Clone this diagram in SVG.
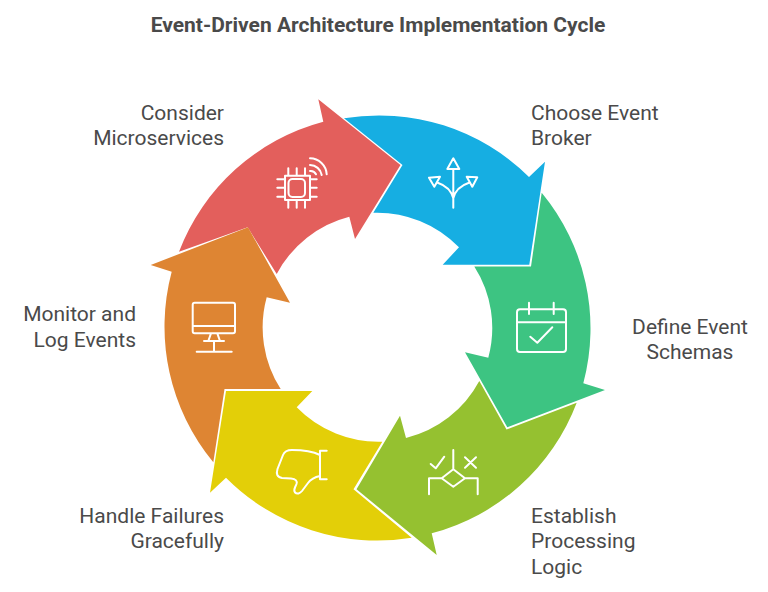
<svg xmlns="http://www.w3.org/2000/svg" width="768" height="592" viewBox="0 0 768 592">
<style>
.t{font-family:Roboto,"Liberation Sans",sans-serif;font-size:21px;fill:#4a4a4a}
.h{font-family:Roboto,"Liberation Sans",sans-serif;font-size:21px;font-weight:700;fill:#4a4a4a}
.i{fill:none;stroke:#fff;stroke-width:2;stroke-linecap:round;stroke-linejoin:round}
</style>
<rect width="768" height="592" fill="#fff"/>
<text class="h" x="378" y="32" text-anchor="middle">Event-Driven Architecture Implementation Cycle</text>
<g id="node-microservices">
<path fill="#e35f5c" d="M179 251.700A213 213 0 0 1 323.300 121.700L318.300 99.300L400.500 165L355 239L349.300 216.700A114 114 0 0 0 276.700 274L247.700 227.300Z"/>
<path class="i" d="M285 175.700H310V200H285ZM292.500 179H301A4 4 0 0 1 305 183V193A4 4 0 0 1 301 197H292.500A4 4 0 0 1 288.500 193V183A4 4 0 0 1 292.500 179ZM288.300 168.300V175.700M296.700 168.300V175.700M305 168.300V175.700M288.300 200V207.700M296.700 200V207.700M305 200V207.700M277.300 179.300H285M277.300 187.700H285M277.300 196.700H285M310 179.300H316.700M310 187.700H316.700M310 196.700H316.700M310 158.300A17 17 0 0 1 326.700 174.300M310 165A12 12 0 0 1 321.700 175M310 171A6 6 0 0 1 316 174.300"/>
<text class="t" x="224" y="120" text-anchor="end">Consider</text>
<text class="t" x="224" y="145" text-anchor="end">Microservices</text>
</g>
<g id="node-broker">
<path fill="#16aee2" d="M344 118.300A213 213 0 0 1 529 177L545 161.700L529.300 264.700H442.700L459 247.300A114 114 0 0 0 373.300 212.700L402.500 165Z"/>
<path class="i" d="M453.300 170V207.700M453.300 158.300L447.300 169H459.300ZM429 177.700L440 176.700L434.300 186.700ZM477.300 177.300L466.700 176.700L472.300 186.700ZM453.300 198.300C451.500 191 446 185.500 437.700 182.700M453.300 198.300C455 191 460.500 185.500 469 182.700"/>
<text class="t" x="531" y="120">Choose Event</text>
<text class="t" x="531" y="145">Broker</text>
</g>
<g id="node-schemas">
<path fill="#3dc482" d="M541.700 192.700A213 213 0 0 1 583.300 383.300L605 390L507.300 427.300L465 352.300L488.300 357.700A114 114 0 0 0 474.300 266.500H531Z"/>
<path class="i" d="M520 309.300H563A3 3 0 0 1 566 312.300V349A3 3 0 0 1 563 352H520A3 3 0 0 1 517 349V312.300A3 3 0 0 1 520 309.300ZM517 322.300H566M529 302.700V314M553.700 302.700V314M530.300 336.700L537.300 342.700L552.300 327.300"/>
<text class="t" x="690" y="334" text-anchor="middle">Define Event</text>
<text class="t" x="690" y="359" text-anchor="middle">Schemas</text>
</g>
<g id="node-logic">
<path fill="#95c130" d="M576.700 402.700A213 213 0 0 1 431.700 533.300L436.700 555L356.500 489.300L400 415.700L406 438A114 114 0 0 0 479.300 381L506.500 429.500Z"/>
<path class="i" d="M453.300 450V469.300L465 478.300L453.300 486.700L441.700 478.300L453.300 469.300M441.700 478.300H429V494.300M465 478.300H477.700V494.300M430.700 464L435.700 468.300L444.300 456.700M465 457.300L476 467.700M476 457.300L465 467.700"/>
<text class="t" x="531" y="523">Establish</text>
<text class="t" x="531" y="548">Processing</text>
<text class="t" x="531" y="574">Logic</text>
</g>
<g id="node-failures">
<path fill="#e3cf08" d="M411.700 537.700A213 213 0 0 1 226 477.700L210 492.700L226 391H312.300L296.700 407.300A114 114 0 0 0 382.300 441.700L353.500 489.300Z"/>
<path class="i" d="M326.700 450.700H320V479.300H326.700M320 455C313 451.500 305 450 292 450C287 450 284.500 451 283 455L277.500 469C276 474 277 477 282 478L291 478.500C296 479 297.500 481 296.500 484C294.500 489 293 490 295 492.500C297 494.500 300 493.500 302 491L308 483C311 479 315 477 320 476"/>
<text class="t" x="224" y="523" text-anchor="end">Handle Failures</text>
<text class="t" x="224" y="548" text-anchor="end">Gracefully</text>
</g>
<g id="node-monitor">
<path fill="#de8533" d="M213.300 462.300A213 213 0 0 1 171.700 271.700L150.700 265L248 227.300L290 302.700L266.700 297.300A114 114 0 0 0 280.700 389H224.500Z"/>
<path class="i" d="M194.700 302.700H233A2 2 0 0 1 235 304.700V331.300A2 2 0 0 1 233 333.300H194.700A2 2 0 0 1 192.700 331.300V304.700A2 2 0 0 1 194.700 302.700ZM192.700 326H235M211 333.300L208.300 341M217.300 333.300L220 341M204 341H224M214 341V351.700M196.700 351.700H231.700"/>
<text class="t" x="136" y="321" text-anchor="end">Monitor and</text>
<text class="t" x="136" y="347" text-anchor="end">Log Events</text>
</g>
</svg>
